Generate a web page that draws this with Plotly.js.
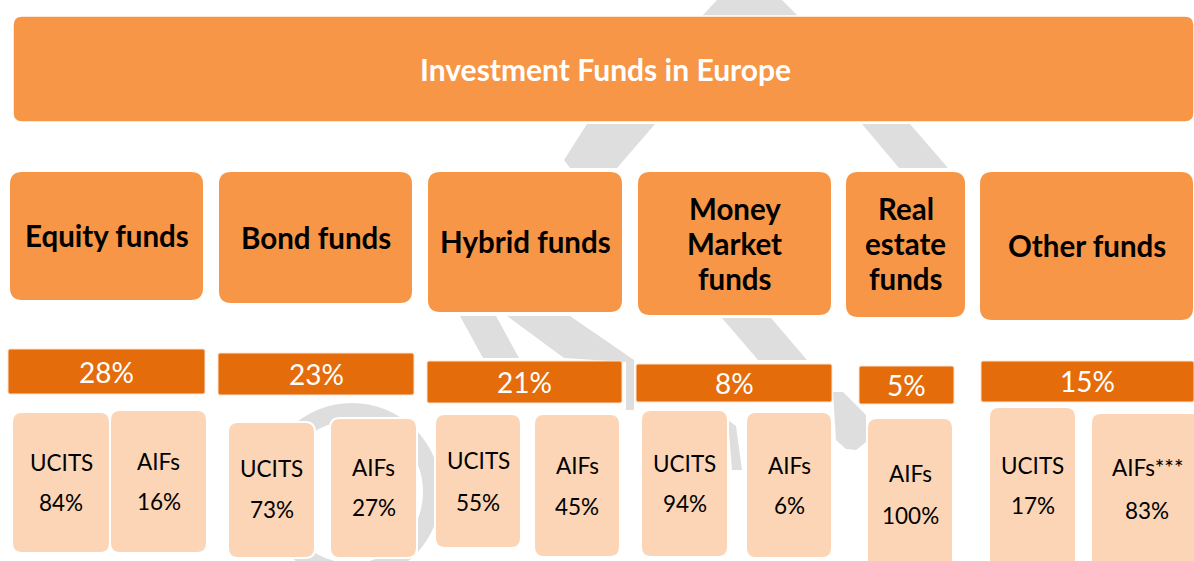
<!DOCTYPE html>
<html>
<head>
<meta charset="utf-8">
<script src="https://cdn.plot.ly/plotly-3.0.1.min.js"></script>
<style>html,body{margin:0;padding:0;background:#fff;}#chart{width:1194px;height:561px;}</style>
</head>
<body>
<div id="chart"></div>
<script>
// ---------- DATA ----------
const titleText = 'Investment Funds in Europe';
const categories = ['Equity funds', 'Bond funds', 'Hybrid funds', 'Money<br>Market<br>funds', 'Real<br>estate<br>funds', 'Other funds'];
const shareOfTotal = [28, 23, 21, 8, 5, 15];
const ucitsShare = [84, 73, 55, 94, null, 17];
const aifShare = [16, 27, 45, 6, 100, 83];
const ucitsLabel = 'UCITS';
const aifLabels = ['AIFs', 'AIFs', 'AIFs', 'AIFs', 'AIFs', 'AIFs***'];

// ---------- LAYOUT GEOMETRY (diagram positions, pixels) ----------
const bannerBox = [13, 1194, 16, 122];
const catBox = [[9,204,171,301],[218,413,171,304],[427,623,171,313],[637,832,171,316],[845,966,171,318],[979,1194,171,321]];
const catTextY = [235, 237, 241, 243, 243, 245];
const catLineGap = 35;
const barBox = [[8,205,349,394],[218,414,353,395],[427,622,361,403],[636,832,364,402],[859,954,366,404],[981,1194,361,402]];
const barTextY = [372, 374, 382, 383, 385, 381];
const ucitsBox = [[12,110,412,553],[228,315,422,558],[435,521,414,548],[641,728,410,557],null,[989,1076,407,575]];
const aifBox = [[110,207,410,553],[330,417,418,558],[534,620,414,557],[746,832,412,558],[867,953,418,575],[1091,1200,413,575]];
const ucitsTextY = [[462,502],[468,509],[460,502],[463,503],null,[465,505]];
const aifTextY = [[461,501],[467,507],[465,506],[465,505],[473,515],[467,510]];

// watermark pieces (light grey logo behind diagram)
const wmPolys = [
  [[717,0],[782,0],[798,16],[702,16]],
  [[587,124],[655,124],[617,168],[570,168],[564,160]],
  [[862,124],[910,124],[948,168],[899,168]],
  [[460,316],[496,316],[519,358],[483,358]],
  [[507,316],[570,316],[634,360],[634,410],[626,410],[626,362],[564,358]],
  [[722,318],[771,318],[807,360],[758,360]],
  [[833,392],[843,392],[866,415],[866,442],[856,450],[846,449],[836,440]],
  [[728,420],[736,426],[742,470],[732,470]]
];
const wmRing = {cx: 352, cy: 492, r: 80, w: 18};

// ---------- COLOURS ----------
const cOrange = '#F79646';
const cDark = '#E46C0A';
const cPeach = '#FBD5B5';
const cGrey = '#DEDEDE';
const FONT = 'Lato, "Open Sans", sans-serif';

function rr(b, r) {
  const [x0, x1, y0, y1] = b;
  return `M${x0+r},${y0} L${x1-r},${y0} Q${x1},${y0} ${x1},${y0+r} L${x1},${y1-r} Q${x1},${y1} ${x1-r},${y1} L${x0+r},${y1} Q${x0},${y1} ${x0},${y1-r} L${x0},${y0+r} Q${x0},${y0} ${x0+r},${y0} Z`;
}
function poly(pts) {
  return 'M' + pts.map(p => p[0] + ',' + p[1]).join(' L') + ' Z';
}

const shapes = [];
const annotations = [];
function label(x, y, text, size, color) {
  annotations.push({x: x, y: y, xref:'x', yref:'y', text: text, showarrow:false,
    font:{family:FONT, size:size, color:color}, xanchor:'center', yanchor:'middle'});
}

// watermark
wmPolys.forEach(p => shapes.push({type:'path', xref:'x', yref:'y', path: poly(p), fillcolor: cGrey, line:{width:0}, layer:'below'}));
shapes.push({type:'circle', xref:'x', yref:'y', x0: wmRing.cx - wmRing.r, x1: wmRing.cx + wmRing.r,
  y0: wmRing.cy - wmRing.r, y1: wmRing.cy + wmRing.r, fillcolor:'rgba(0,0,0,0)', line:{color:cGrey, width: wmRing.w}, layer:'below'});

// banner
shapes.push({type:'path', xref:'x', yref:'y', path: rr(bannerBox, 9), fillcolor: cOrange, line:{color:'#FFFFFF', width:1.5}});
label(605, 69, '<b>' + titleText + '</b>', 30, '#FFFFFF');

categories.forEach((c, i) => {
  const cb = catBox[i];
  const cx = (cb[0] + cb[1]) / 2;
  shapes.push({type:'path', xref:'x', yref:'y', path: rr(cb, 13), fillcolor: cOrange, line:{color:'#FFFFFF', width:2}});
  const lines = c.split('<br>');
  lines.forEach((ln, k) => {
    const y = catTextY[i] + (k - (lines.length - 1) / 2) * catLineGap;
    label(cx, y, '<b>' + ln + '</b>', 29.5, '#000000');
  });

  const bb = barBox[i];
  shapes.push({type:'path', xref:'x', yref:'y', path: rr(bb, 2), fillcolor: cDark, line:{color:'#FBE3D0', width:1}});
  label((bb[0]+bb[1])/2, barTextY[i], shareOfTotal[i] + '%', 28, '#FFFFFF');

  if (ucitsShare[i] !== null && ucitsBox[i]) {
    const ub = ucitsBox[i];
    const ux = (ub[0] + ub[1]) / 2;
    shapes.push({type:'path', xref:'x', yref:'y', path: rr(ub, 10), fillcolor: cPeach, line:{color:'#FFFFFF', width:2}});
    label(ux, ucitsTextY[i][0], ucitsLabel, 22.5, '#000000');
    label(ux, ucitsTextY[i][1], ucitsShare[i] + '%', 22.5, '#000000');
  }
  const ab = aifBox[i];
  shapes.push({type:'path', xref:'x', yref:'y', path: rr(ab, 10), fillcolor: cPeach, line:{color:'#FFFFFF', width:2}});
  const axText = (i === 5) ? 1147 : (ab[0] + ab[1]) / 2;
  label(axText, aifTextY[i][0], aifLabels[i], 22.5, '#000000');
  label(axText, aifTextY[i][1], aifShare[i] + '%', 22.5, '#000000');
});

const layout = {
  width: 1194, height: 561,
  margin: {l:0, r:0, t:0, b:0, pad:0},
  paper_bgcolor: '#FFFFFF', plot_bgcolor: '#FFFFFF',
  showlegend: false,
  xaxis: {range:[0,1194], visible:false, fixedrange:true},
  yaxis: {range:[561,0], visible:false, fixedrange:true},
  shapes: shapes,
  annotations: annotations
};

Plotly.newPlot('chart', [{x:[], y:[], type:'scatter', mode:'markers', hoverinfo:'skip'}], layout, {staticPlot:true, displayModeBar:false});
</script>
</body>
</html>
